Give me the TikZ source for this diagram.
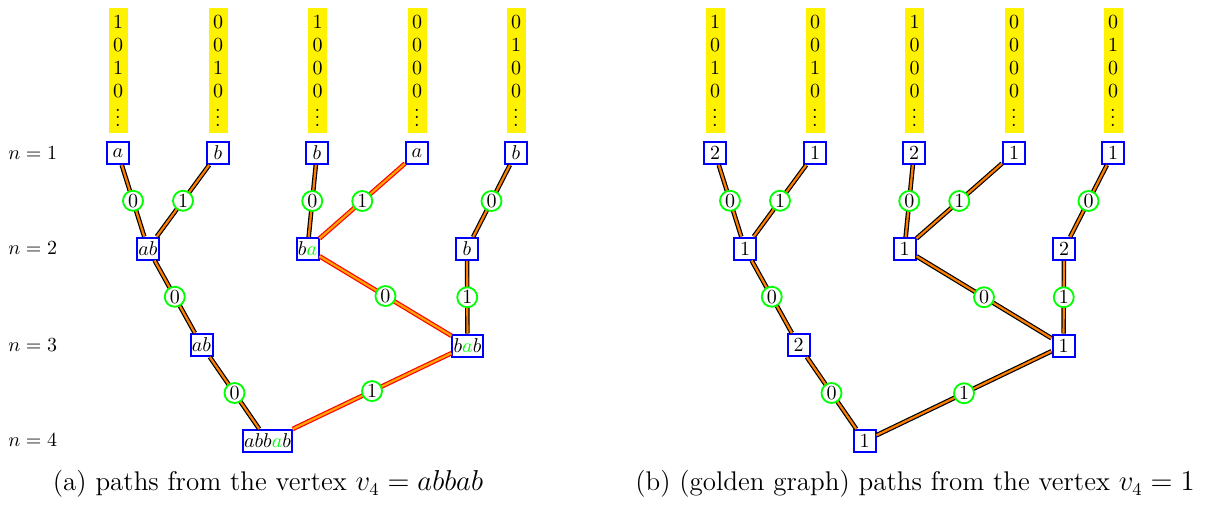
\documentclass[tikz,border=0pt]{standalone}
\usepackage{xcolor}
\begin{document}
\tikzset{
 vbox/.style={draw=blue, line width=1pt, fill=white, minimum width=11pt, minimum height=11pt, inner xsep=0.6pt, inner ysep=0pt, font=\fontsize{10}{12}\selectfont},
 lab/.style={circle, draw=green, line width=0.9pt, fill=white, minimum size=10pt, inner sep=0pt, font=\fontsize{10}{12}\selectfont},
 pedge/.style={draw=black, double=orange, line width=0.6pt, double distance=1.1pt},
 redge/.style={draw=red, double=orange!70!yellow, line width=0.6pt, double distance=1.1pt},
 ycol/.style={fill=yellow, minimum width=9.5pt, minimum height=62.5pt, inner xsep=2.25pt, inner ysep=0pt, font=\fontsize{10}{12}\selectfont},
 nlab/.style={anchor=west, inner sep=0pt, font=\fontsize{10}{12}\selectfont},
 capt/.style={inner sep=0pt, font=\fontsize{13.5}{16}\selectfont},
}
\newcommand\mydots{\vbox{\baselineskip3.6pt\lineskiplimit0pt\hbox{.}\hbox{.}\hbox{.}}}
\newcommand\ycolumn[6]{%
 \node[ycol] (#1) at (#2,70.5) {\vbox{\baselineskip11.5pt\lineskiplimit0pt
   \hbox to 5pt{\hss#3\hss}\hbox to 5pt{\hss#4\hss}\hbox to 5pt{\hss#5\hss}\hbox to 5pt{\hss#6\hss}%
   \nointerlineskip\kern6.04pt\hbox to 5pt{\hss\mydots\hss}}};
}
\newcommand\ga{{\color{green}a}}
\begin{tikzpicture}[x=0.5pt,y=-0.5pt]
\useasboundingbox (0,0) rectangle (1205,504);
% ---------- left panel ----------
\ycolumn{ly1}{118}{1}{0}{1}{0}
\ycolumn{ly2}{218}{0}{0}{1}{0}
\ycolumn{ly3}{317.5}{1}{0}{0}{0}
\ycolumn{ly4}{417}{0}{0}{0}{0}
\ycolumn{ly5}{516}{0}{1}{0}{0}
\node[nlab] (n1) at (8,153) {$n=1$};
\node[nlab] (n2) at (8,248) {$n=2$};
\node[nlab] (n3) at (8,345) {$n=3$};
\node[nlab] (n4) at (8,440) {$n=4$};
\node[vbox] (la1) at (118,153) {$a$};
\node[vbox] (la2) at (218,153) {$b$};
\node[vbox] (la3) at (317,153) {$b$};
\node[vbox] (la4) at (417,153) {$a$};
\node[vbox] (la5) at (516,153) {$b$};
\node[vbox] (lb1) at (148,248.5) {$ab$};
\node[vbox] (lb2) at (307.5,249) {$b\ga$};
\node[vbox] (lb3) at (467,249) {$b$};
\node[vbox] (lc1) at (201.5,345) {$ab$};
\node[vbox] (lc2) at (467.5,345.5) {$b\ga b$};
\node[vbox] (ld1) at (267.5,441) {$abb\ga b$};
\draw[pedge] (la1) -- node[lab] (le1) {0} (lb1);
\draw[pedge] (la2) -- node[lab] (le2) {1} (lb1);
\draw[pedge] (lb1) -- node[lab] (le3) {0} (lc1);
\draw[pedge] (lc1) -- node[lab] (le4) {0} (ld1);
\draw[pedge] (la3) -- node[lab] (le5) {0} (lb2);
\draw[redge] (la4) -- node[lab] (le6) {1} (lb2);
\draw[redge] (lb2) -- node[lab] (le7) {0} (lc2);
\draw[pedge] (la5) -- node[lab] (le8) {0} (lb3);
\draw[pedge] (lb3) -- node[lab] (le9) {1} (lc2);
\draw[redge] (lc2) -- node[lab] (le10) {1} (ld1);
\node[capt] (capa) at (268,484) {(a) paths from the vertex $v_4=abbab$};
% ---------- right panel ----------
\ycolumn{ry1}{715}{1}{0}{1}{0}
\ycolumn{ry2}{815}{0}{0}{1}{0}
\ycolumn{ry3}{914.5}{1}{0}{0}{0}
\ycolumn{ry4}{1014}{0}{0}{0}{0}
\ycolumn{ry5}{1113}{0}{1}{0}{0}
\node[vbox] (ra1) at (715,153) {2};
\node[vbox] (ra2) at (815,153) {1};
\node[vbox] (ra3) at (914,153) {2};
\node[vbox] (ra4) at (1014,153) {1};
\node[vbox] (ra5) at (1113,153) {1};
\node[vbox] (rb1) at (745,248.5) {1};
\node[vbox] (rb2) at (904.5,249) {1};
\node[vbox] (rb3) at (1064,249) {2};
\node[vbox] (rc1) at (798.5,345) {2};
\node[vbox] (rc2) at (1063.5,345.5) {1};
\node[vbox] (rd1) at (864.5,441) {1};
\draw[pedge] (ra1) -- node[lab] (re1) {0} (rb1);
\draw[pedge] (ra2) -- node[lab] (re2) {1} (rb1);
\draw[pedge] (rb1) -- node[lab] (re3) {0} (rc1);
\draw[pedge] (rc1) -- node[lab] (re4) {0} (rd1);
\draw[pedge] (ra3) -- node[lab] (re5) {0} (rb2);
\draw[pedge] (ra4) -- node[lab] (re6) {1} (rb2);
\draw[pedge] (rb2) -- node[lab] (re7) {0} (rc2);
\draw[pedge] (ra5) -- node[lab] (re8) {0} (rb3);
\draw[pedge] (rb3) -- node[lab] (re9) {1} (rc2);
\draw[pedge] (rc2) -- node[lab] (re10) {1} (rd1);
\node[capt] (capb) at (915,484) {(b) (golden graph) paths from the vertex $v_4=1$};
\end{tikzpicture}
\end{document}
